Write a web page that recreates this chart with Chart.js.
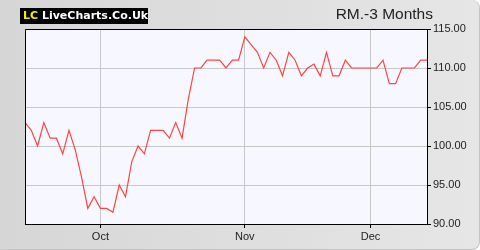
<!DOCTYPE html>
<html>
<head>
<meta charset="utf-8">
<script src="https://cdn.jsdelivr.net/npm/chart.js@4.4.1/dist/chart.umd.min.js"></script>
<style>
  html, body { margin: 0; padding: 0; background: #fff; }
  #panel {
    position: relative; width: 479px; height: 249px;
    background: linear-gradient(to right, #d6d6d6, #e6e6e6);
    border-right: 1px solid #c4c4c4; border-bottom: 1px solid #c4c4c4;
    border-radius: 0 8px 8px 0; overflow: hidden;
  }
  #logo {
    position: absolute; left: 20px; top: 8px; width: 128px; height: 16px;
    background: #000; font: bold 11px "DejaVu Sans", sans-serif; line-height: 16px;
    color: #fff; white-space: nowrap; padding-left: 3px; box-sizing: border-box;
  }
  #logo b { color: #f0f000; }
  #title {
    position: absolute; right: 46px; top: 5px;
    font: 15.5px "Liberation Sans", Arial, sans-serif; color: #222;
  }
  canvas { position: absolute; left: 0; top: 0; }
</style>
</head>
<body>
<div id="panel">
  <canvas id="chart" width="480" height="250"></canvas>
  <div id="logo"><b>LC</b> LiveCharts.Co.Uk</div>
  <div id="title">RM.-3 Months</div>
</div>
<script>
'use strict';

// ── Data ────────────────────────────────────────────────────
const prices = [
  103, 102, 100, 103, 101, 101, 99, 102, 99.5, 96,
  92, 93.5, 92, 92, 91.5, 95, 93.5, 98, 100, 99,
  102, 102, 102, 101, 103, 101, 106, 110, 110, 111,
  111, 111, 110, 111, 111, 114, 113, 112, 110, 112,
  111, 109, 112, 111, 109, 110, 110.5, 109, 112, 109,
  109, 111, 110, 110, 110, 110, 110, 111, 108, 108,
  110, 110, 110, 111, 111
];
const monthTickIdx = [12, 35, 55];
const monthTickLabels = ['Oct', 'Nov', 'Dec'];
const yTicks = [90, 95, 100, 105, 110, 115];

// ── Plot frame + background ────────────────────────────────
const framePlugin = {
  id: 'frame',
  beforeDraw(chart) {
    const { ctx, chartArea: a } = chart;
    ctx.save();
    ctx.fillStyle = '#f7f8ff';
    ctx.fillRect(a.left, a.top, a.right - a.left, a.bottom - a.top);
    ctx.restore();
  },
  afterDraw(chart) {
    const { ctx, chartArea: a } = chart;
    ctx.save();
    ctx.strokeStyle = '#000';
    ctx.lineWidth = 1;
    ctx.beginPath();
    ctx.moveTo(a.left + 0.5, a.bottom);
    ctx.lineTo(a.left + 0.5, a.top + 0.5);
    ctx.lineTo(a.right, a.top + 0.5);
    ctx.stroke();
    ctx.restore();
  }
};

const font = { family: '"Liberation Sans", Arial, sans-serif', size: 11 };

new Chart(document.getElementById('chart').getContext('2d'), {
  type: 'line',
  data: {
    datasets: [{
      data: prices.map((v, i) => ({ x: i, y: v })),
      borderColor: '#ff4444',
      borderWidth: 1.2,
      pointRadius: 0,
      tension: 0,
      fill: false
    }]
  },
  options: {
    responsive: false, animation: false,
    layout: { padding: { left: 25, top: 29, right: 0, bottom: 0 } },
    plugins: { legend: { display: false }, tooltip: { enabled: false } },
    scales: {
      x: {
        type: 'linear', min: 0, max: prices.length - 1,
        afterBuildTicks: s => { s.ticks = monthTickIdx.map(v => ({ value: v })); },
        afterFit: s => { s.height = 26; },
        ticks: {
          autoSkip: false, maxRotation: 0, color: '#222', font, padding: 2,
          callback: v => monthTickLabels[monthTickIdx.indexOf(v)] || ''
        },
        grid: { color: '#c8c8c8', tickColor: '#000', tickLength: 4, lineWidth: 1 },
        border: { color: '#000', width: 1 }
      },
      y: {
        position: 'right', min: 90, max: 115,
        afterBuildTicks: s => { s.ticks = yTicks.map(v => ({ value: v })); },
        afterFit: s => { s.width = 53; },
        ticks: { color: '#222', font, padding: 2, callback: v => v.toFixed(2) },
        grid: { color: '#c8c8c8', tickColor: '#000', tickLength: 4, lineWidth: 1 },
        border: { color: '#000', width: 1 }
      }
    }
  },
  plugins: [framePlugin]
});
</script>
</body>
</html>
